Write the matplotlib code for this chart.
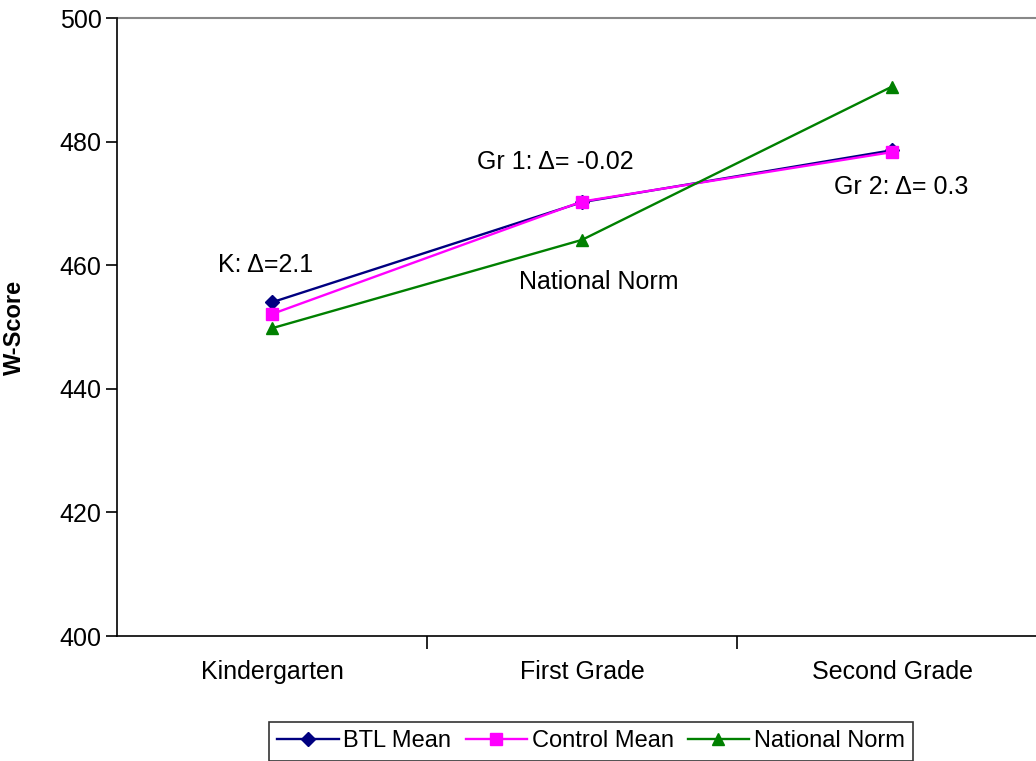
"""W-Score growth by grade: BTL vs control vs national norm."""

import matplotlib
matplotlib.use('Agg')
import matplotlib.pyplot as plt

plt.rcParams['font.family'] = ['Liberation Sans', 'DejaVu Sans']

grades = ['Kindergarten', 'First Grade', 'Second Grade']
btl_mean = [454.0, 470.2, 478.6]
control_mean = [452.1, 470.3, 478.3]
national_norm = [449.8, 464.1, 488.9]
yticks = [400, 420, 440, 460, 480, 500]

fig = plt.figure(figsize=(10.36, 7.61), dpi=100)
ax = fig.add_axes([117 / 1036, 1 - 636 / 761, 930 / 1036, 618 / 761])

x = range(len(grades))
ax.plot(x, btl_mean, color='#000080', lw=1.7, marker='D', ms=7,
        label='BTL Mean')
ax.plot(x, control_mean, color='#FF00FF', lw=1.7, marker='s', ms=8,
        label='Control Mean')
ax.plot(x, national_norm, color='#008000', lw=1.7, marker='^', ms=9,
        label='National Norm')

ax.set_xlim(-0.5, 2.5)
ax.set_ylim(400, 500)
ax.set_yticks(yticks)
ax.set_xticks([0.5, 1.5, 2.5], minor=False)
ax.set_xticklabels([])
ax.set_xticks(list(x), minor=True)
ax.set_xticklabels(grades, minor=True)
ax.tick_params(axis='x', which='minor', length=0, pad=17, labelsize=18)
ax.tick_params(axis='x', which='major', length=9, width=1.2)
ax.tick_params(axis='y', length=8, width=1.2, labelsize=18, pad=3)

# gray border along the top of the plot area
ax.axhline(500, color='#888888', lw=1.5, clip_on=False)
for side in ('top', 'right'):
    ax.spines[side].set_visible(False)
for side in ('left', 'bottom'):
    ax.spines[side].set_linewidth(1.2)

ax.set_ylabel('W-Score', fontsize=17, fontweight='bold')
ax.yaxis.set_label_coords(-0.098, 0.5)

ax.text(-0.02, 460.0, 'K: Δ=2.1', fontsize=18, ha='center', va='center')
ax.text(0.915, 476.7, 'Gr 1: Δ= -0.02', fontsize=18, ha='center', va='center')
ax.text(2.03, 472.6, 'Gr 2: Δ= 0.3', fontsize=18, ha='center', va='center')
ax.text(1.055, 457.3, 'National Norm', fontsize=18, ha='center', va='center')

leg = fig.legend(loc='upper center', bbox_to_anchor=(591 / 1036, 1 - 722 / 761),
                 ncol=3, fontsize=17, frameon=True, fancybox=False,
                 edgecolor='black', handlelength=2.6, handletextpad=0.2,
                 columnspacing=0.6, borderpad=0.35, borderaxespad=0)
leg.get_frame().set_linewidth(1.2)

fig.savefig('out.png', dpi=100)
